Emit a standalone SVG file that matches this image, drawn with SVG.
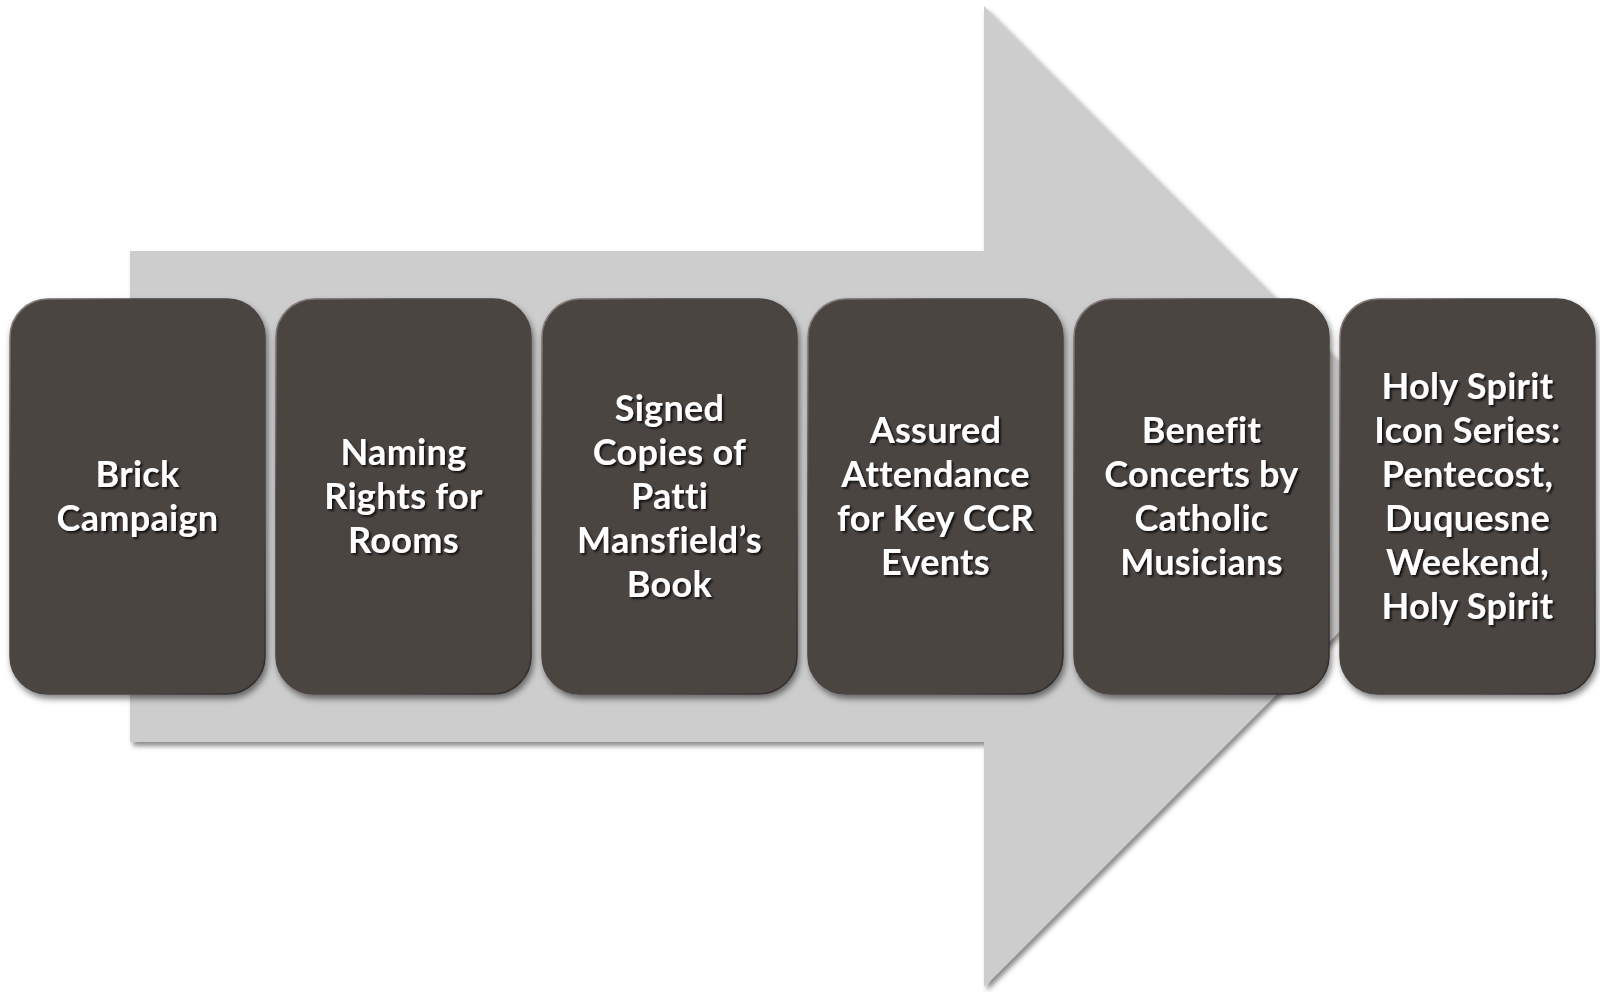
<svg xmlns="http://www.w3.org/2000/svg" width="1600" height="992" viewBox="0 0 1600 992">
<defs>
<filter id="arrowShadow" x="-5%" y="-5%" width="110%" height="110%">
<feDropShadow dx="3" dy="4" stdDeviation="2.5" flood-color="#000" flood-opacity="0.45"/>
</filter>
<filter id="boxShadow" x="-10%" y="-10%" width="120%" height="120%">
<feDropShadow dx="2" dy="4" stdDeviation="3" flood-color="#000" flood-opacity="0.5"/>
</filter>
<filter id="textShadow" x="-10%" y="-10%" width="120%" height="130%">
<feDropShadow dx="2" dy="2" stdDeviation="1.2" flood-color="#000" flood-opacity="0.75"/>
</filter>
<linearGradient id="bevel" x1="0" y1="0" x2="1" y2="1">
<stop offset="0" stop-color="#8a8180"/>
<stop offset="0.25" stop-color="#4b4443"/>
<stop offset="0.75" stop-color="#4b4443"/>
<stop offset="1" stop-color="#2f2a29"/>
</linearGradient>
</defs>
<style>
.box{fill:#4b4443;stroke:url(#bevel);stroke-width:1.5;filter:url(#boxShadow)}
.lbl{font-family:Lato,"Open Sans","Liberation Sans",sans-serif;font-weight:bold;font-size:36px;letter-spacing:0.3px;fill:#ffffff;text-anchor:middle;font-variant-ligatures:none;font-feature-settings:"liga" 0,"clig" 0,"dlig" 0;filter:url(#textShadow)}
</style>
<rect width="1600" height="992" fill="#ffffff"/>
<g id="arrow">
<polygon points="130,251 984,251 984,6 1474,496.5 984,987 984,742 130,742" fill="#cdcdcd" filter="url(#arrowShadow)"/>
</g>
<g id="connectors"></g>
<g id="node1">
<rect class="box" x="10" y="299" width="255" height="395" rx="38"/>
<text class="lbl"><tspan x="137.5" y="487">Brick</tspan><tspan x="137.5" y="531">Campaign</tspan></text>
</g>
<g id="node2">
<rect class="box" x="276" y="299" width="255" height="395" rx="38"/>
<text class="lbl"><tspan x="403.5" y="465">Naming</tspan><tspan x="403.5" y="509">Rights for</tspan><tspan x="403.5" y="553">Rooms</tspan></text>
</g>
<g id="node3">
<rect class="box" x="542" y="299" width="255" height="395" rx="38"/>
<text class="lbl"><tspan x="669.5" y="421">Signed</tspan><tspan x="669.5" y="465">Copies of</tspan><tspan x="669.5" y="509">Patti</tspan><tspan x="669.5" y="553">Mansfield’s</tspan><tspan x="669.5" y="597">Book</tspan></text>
</g>
<g id="node4">
<rect class="box" x="808" y="299" width="255" height="395" rx="38"/>
<text class="lbl"><tspan x="935.5" y="443">Assured</tspan><tspan x="935.5" y="487">Attendance</tspan><tspan x="935.5" y="531">for Key CCR</tspan><tspan x="935.5" y="575">Events</tspan></text>
</g>
<g id="node5">
<rect class="box" x="1074" y="299" width="255" height="395" rx="38"/>
<text class="lbl"><tspan x="1201.5" y="443">Benefit</tspan><tspan x="1201.5" y="487">Concerts by</tspan><tspan x="1201.5" y="531">Catholic</tspan><tspan x="1201.5" y="575">Musicians</tspan></text>
</g>
<g id="node6">
<rect class="box" x="1340" y="299" width="255" height="395" rx="38"/>
<text class="lbl"><tspan x="1467.5" y="399">Holy Spirit</tspan><tspan x="1467.5" y="443">Icon Series:</tspan><tspan x="1467.5" y="487">Pentecost,</tspan><tspan x="1467.5" y="531">Duquesne</tspan><tspan x="1467.5" y="575">Weekend,</tspan><tspan x="1467.5" y="619">Holy Spirit</tspan></text>
</g>
</svg>
